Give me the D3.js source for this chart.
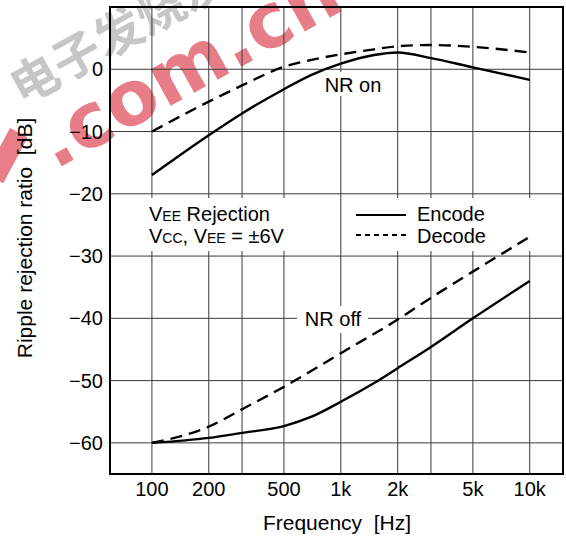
<!DOCTYPE html>
<html lang="en">
<head>
<meta charset="UTF-8">
<title>Ripple rejection ratio vs frequency</title>
<style>
    body { margin: 0; background: #fff; }
    svg { display: block; font-family: 'Liberation Sans', Arial, sans-serif; }
    .grid line { stroke: #3a3a3a; stroke-width: 1; }
    .tick-label { font-size: 20px; fill: #000; }
</style>
<script src="https://d3js.org/d3.v7.min.js"></script>
</head>
<body>
<svg id="chart" width="566" height="538"></svg>
<script>
    // data
    const xGrid = [100, 200, 300, 500, 1000, 2000, 3000, 5000, 10000];
    const xTicks = [100, 200, 500, 1000, 2000, 5000, 10000];
    const xTickLabels = ["100", "200", "500", "1k", "2k", "5k", "10k"];
    const yTicks = [0, -10, -20, -30, -40, -50, -60];

    const encodeOnF = [100, 200, 300, 500, 700, 1000, 1500, 2000, 3000, 5000, 10000];
    const encodeOnV = [-17, -10.6, -7.1, -3.2, -0.9, 0.9, 2.3, 2.7, 1.8, 0.3, -1.7];
    const decodeOnF = [100, 200, 300, 500, 700, 1000, 1500, 2000, 3000, 5000, 10000];
    const decodeOnV = [-10, -5.2, -2.6, 0.4, 1.5, 2.4, 3.2, 3.7, 3.9, 3.6, 2.7];
    const encodeOffF = [100, 150, 200, 300, 500, 700, 1000, 1500, 2000, 3000, 5000, 10000];
    const encodeOffV = [-60, -59.6, -59.2, -58.4, -57.3, -55.8, -53.4, -50.4, -48, -44.6, -40, -34];
    const decodeOffF = [100, 200, 300, 500, 1000, 2000, 3000, 5000, 10000];
    const decodeOffV = [-60, -57.4, -54.6, -51, -45.6, -40.2, -36.7, -32.5, -26.9];

    const svg = d3.select("#chart");
    const pLeft = 110, pRight = 563, pTop = 7, pBottom = 474;

    const x = d3.scaleLog().domain([60, 15000]).range([pLeft, pRight]);
    const y = d3.scaleLinear().domain([-65, 10]).range([pBottom, pTop]);

    // watermark (sits under the chart)
    const wm = svg.append("g");
    wm.append("rect")
        .attr("transform", "translate(10,128) rotate(28)")
        .attr("width", 20).attr("height", 52)
        .attr("fill", "#e5707a").attr("opacity", 0.9);
    wm.append("text")
        .attr("transform", "translate(55,170) rotate(-29)")
        .attr("font-family", "'DejaVu Sans', sans-serif")
        .attr("font-size", 76).attr("font-weight", "bold")
        .attr("fill", "#e5707a").attr("opacity", 0.9)
        .text(".com.cn");
    wm.append("text")
        .attr("transform", "translate(22,106) rotate(-29)")
        .attr("font-family", "'Noto Sans CJK SC', sans-serif")
        .attr("font-size", 48).attr("font-weight", "bold")
        .attr("fill", "#b8b8b8").attr("opacity", 0.8)
        .text("电子发烧友");

    // grid
    const grid = svg.append("g").attr("class", "grid");
    grid.selectAll(".v").data(xGrid).enter().append("line")
        .attr("x1", d => x(d)).attr("x2", d => x(d))
        .attr("y1", pTop).attr("y2", pBottom);
    grid.selectAll(".h").data(yTicks).enter().append("line")
        .attr("x1", pLeft).attr("x2", pRight)
        .attr("y1", d => y(d)).attr("y2", d => y(d));

    // white boxes behind the notes
    svg.append("rect").attr("x", pLeft + 1).attr("y", 198)
        .attr("width", pRight - pLeft - 2).attr("height", 53).attr("fill", "#fff");
    svg.append("line").attr("x1", x(1000)).attr("x2", x(1000))
        .attr("y1", 198).attr("y2", 251).attr("stroke", "#3a3a3a");
    svg.append("rect").attr("x", 320).attr("y", 72).attr("width", 66).attr("height", 24).attr("fill", "#fff");
    svg.append("rect").attr("x", 297).attr("y", 306).attr("width", 71).attr("height", 27).attr("fill", "#fff");

    // curves
    const line = d3.line().x(d => x(d[0])).y(d => y(d[1])).curve(d3.curveMonotoneX);
    const series = [
        [encodeOnF, encodeOnV, null],
        [decodeOnF, decodeOnV, "12,7"],
        [encodeOffF, encodeOffV, null],
        [decodeOffF, decodeOffV, "12,7"]
    ];
    series.forEach(s => {
        svg.append("path")
            .datum(s[0].map((f, i) => [f, s[1][i]]))
            .attr("d", line)
            .attr("fill", "none")
            .attr("stroke", "#000")
            .attr("stroke-width", 2.4)
            .attr("stroke-dasharray", s[2]);
    });

    // frame
    svg.append("rect").attr("x", pLeft).attr("y", pTop)
        .attr("width", pRight - pLeft).attr("height", pBottom - pTop)
        .attr("fill", "none").attr("stroke", "#000").attr("stroke-width", 2);

    // tick labels
    svg.selectAll(".xl").data(xTicks).enter().append("text")
        .attr("class", "tick-label")
        .attr("x", d => x(d)).attr("y", 496)
        .attr("text-anchor", "middle")
        .text((d, i) => xTickLabels[i]);
    svg.selectAll(".yl").data(yTicks).enter().append("text")
        .attr("class", "tick-label")
        .attr("x", 103).attr("y", d => y(d) + 7)
        .attr("text-anchor", "end")
        .text(d => d === 0 ? "0" : "\u2212" + Math.abs(d));

    // axis titles
    svg.append("text").attr("x", 337).attr("y", 530)
        .attr("text-anchor", "middle").attr("font-size", 21)
        .attr("xml:space", "preserve")
        .text("Frequency  [Hz]");
    svg.append("text")
        .attr("transform", "translate(32,238) rotate(-90)")
        .attr("text-anchor", "middle").attr("font-size", 21)
        .attr("xml:space", "preserve")
        .text("Ripple rejection ratio  [dB]");

    // curve labels
    svg.append("text").attr("x", 353).attr("y", 92)
        .attr("text-anchor", "middle").attr("font-size", 20).text("NR on");
    svg.append("text").attr("x", 333).attr("y", 326)
        .attr("text-anchor", "middle").attr("font-size", 20).text("NR off");

    // note
    const n1 = svg.append("text").attr("x", 149).attr("y", 221).attr("font-size", 20);
    n1.append("tspan").text("V");
    n1.append("tspan").attr("font-size", 14).text("EE");
    n1.append("tspan").text(" Rejection");
    const n2 = svg.append("text").attr("x", 149).attr("y", 243).attr("font-size", 20);
    n2.append("tspan").text("V");
    n2.append("tspan").attr("font-size", 14).text("CC");
    n2.append("tspan").text(", V");
    n2.append("tspan").attr("font-size", 14).text("EE");
    n2.append("tspan").text(" = \u00b16V");

    // legend
    const legend = [["Encode", null, 215, 221], ["Decode", "5,4", 235, 243]];
    legend.forEach(l => {
        svg.append("line").attr("x1", 356).attr("x2", 406)
            .attr("y1", l[2]).attr("y2", l[2])
            .attr("stroke", "#000").attr("stroke-width", 2)
            .attr("stroke-dasharray", l[1]);
        svg.append("text").attr("x", 417).attr("y", l[3])
            .attr("font-size", 20).text(l[0]);
    });
</script>
</body>
</html>
